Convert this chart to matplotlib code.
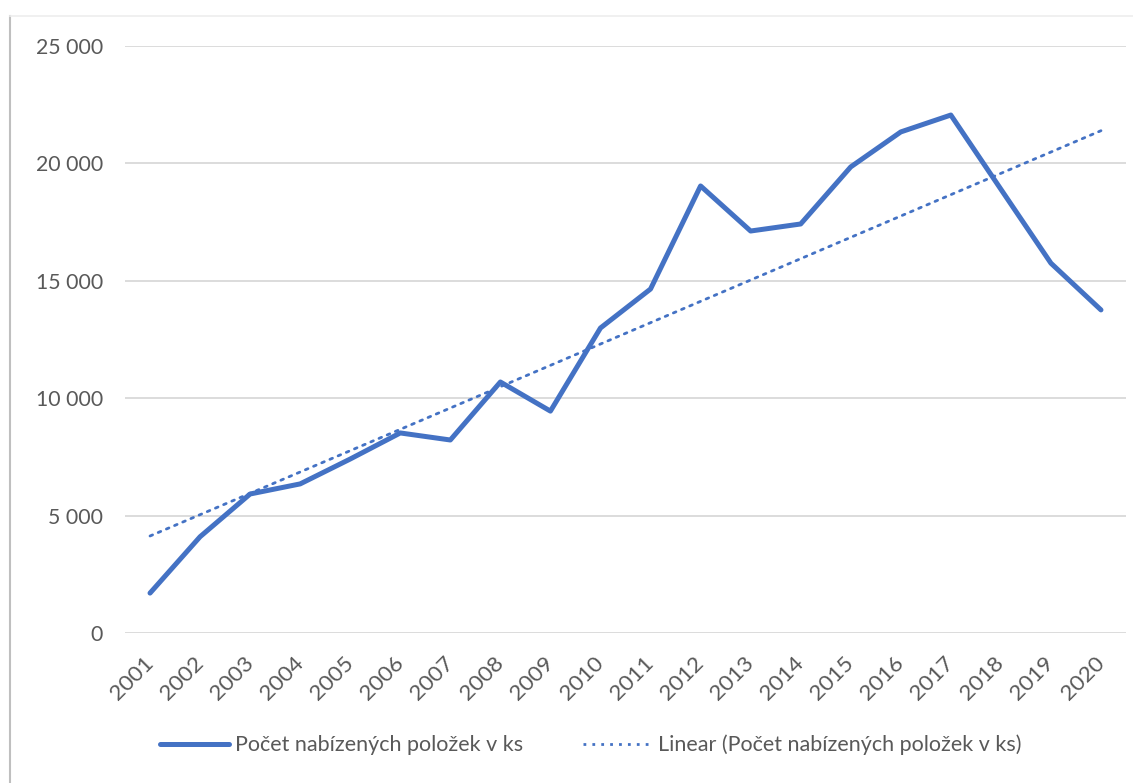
import numpy as np
import matplotlib
matplotlib.use("Agg")
import matplotlib.pyplot as plt
from matplotlib.lines import Line2D
from matplotlib.transforms import ScaledTranslation

plt.rcParams['font.family'] = ['Lato', 'DejaVu Sans']

years = [str(y) for y in range(2001, 2021)]
values = [1700, 4100, 5920, 6350, 7410, 8520, 8220, 10690, 9450, 12990,
          14650, 19040, 17120, 17420, 19850, 21340, 22060, 18900, 15750, 13760]
yticks = [0, 5000, 10000, 15000, 20000, 25000]
ytick_labels = ["0", "5 000", "10 000", "15 000", "20 000", "25 000"]
series_name = "Počet nabízených položek v ks"
trend_name = "Linear (Počet nabízených položek v ks)"

color = "#4472C4"
text_color = "#595959"

fig = plt.figure(figsize=(11.33, 7.83), dpi=100)
ax = fig.add_axes([125/1133, 1-633/783, (1126-125)/1133, (633-46)/783])

x = np.arange(len(years))
ax.plot(x, values, color=color, lw=3.6, solid_joinstyle='round',
        solid_capstyle='round', zorder=3)
coef = np.polyfit(x, values, 1)
ax.plot(x, np.polyval(coef, x), color=color, lw=2.0, linestyle=(0, (1, 2.2)),
        dash_capstyle='round', zorder=2)

ax.set_xlim(-0.5, len(years) - 0.5)
ax.set_ylim(0, 25000)
ax.set_yticks(yticks)
ax.set_yticklabels(ytick_labels)
ax.set_xticks(x)
ax.set_xticklabels(years, rotation=45, ha='right', rotation_mode='anchor')
ax.tick_params(axis='y', length=0, pad=15.8, labelsize=15.3, labelcolor=text_color)
ax.tick_params(axis='x', length=0, pad=14, labelsize=16.2, labelcolor=text_color)
off = ScaledTranslation(-7/100, 0, fig.dpi_scale_trans)
for lbl in ax.get_xticklabels():
    lbl.set_transform(lbl.get_transform() + off)
ax.grid(axis='y', color='#D9D9D9', lw=1.3)
ax.set_axisbelow(True)
for s in ax.spines.values():
    s.set_visible(False)

handles = [Line2D([], [], color=color, lw=3.6, solid_capstyle='round'),
           Line2D([], [], color=color, lw=2.0, linestyle=(0, (1, 2.2)))]
leg = fig.legend(handles, [series_name, trend_name], loc='center',
                 bbox_to_anchor=(591/1133, 1-745/783), ncol=2, frameon=False,
                 fontsize=15.5, handlelength=3.2, handletextpad=0.28,
                 columnspacing=2.8, labelcolor=text_color)

# outer chart frame edges
fig.add_artist(Line2D([10/1133, 10/1133], [0, 1-16/783], transform=fig.transFigure,
                      color='#BFBFBF', lw=1.5))
fig.add_artist(Line2D([10/1133, 1], [1-16/783, 1-16/783], transform=fig.transFigure,
                      color='#EDEDED', lw=1.2))

fig.savefig("out.png", dpi=100)
